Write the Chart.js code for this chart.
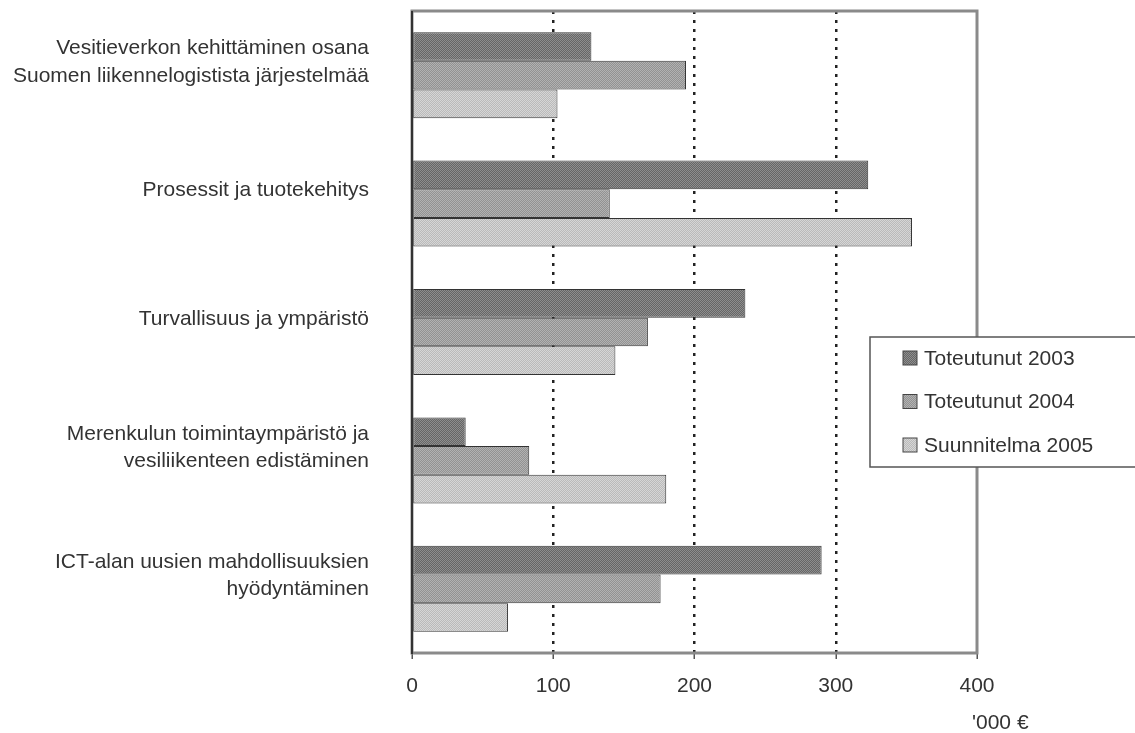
<!DOCTYPE html>
<html>
<head>
<meta charset="utf-8">
<script src="https://cdn.jsdelivr.net/npm/chart.js@4/dist/chart.umd.min.js"></script>
<style>
  html, body { margin: 0; padding: 0; background: #fff; }
  #wrap { width: 1135px; height: 733px; }
</style>
</head>
<body>
<div id="wrap"><canvas id="chart" width="1135" height="733"></canvas></div>
<script>
const categories = [
  ['Vesitieverkon kehittäminen osana', 'Suomen liikennelogistista järjestelmää'],
  'Prosessit ja tuotekehitys',
  'Turvallisuus ja ympäristö',
  ['Merenkulun toimintaympäristö ja', 'vesiliikenteen edistäminen'],
  ['ICT-alan uusien mahdollisuuksien', 'hyödyntäminen']
];
const seriesNames = ['Toteutunut 2003', 'Toteutunut 2004', 'Suunnitelma 2005'];
const toteutunut2003 = [127, 323, 236, 38, 290];
const toteutunut2004 = [194, 140, 167, 83, 176];
const suunnitelma2005 = [103, 354, 144, 180, 68];
const xTicks = [0, 100, 200, 300, 400];
const unitLabel = "'000 €";

const FONT = "'Liberation Sans', Arial, sans-serif";
const TEXT = '#333';

// small checker so the bars get the dithered look of the scan
function makePattern(c1, c2) {
  const p = document.createElement('canvas');
  p.width = 2; p.height = 2;
  const g = p.getContext('2d');
  g.fillStyle = c1; g.fillRect(0, 0, 2, 2);
  g.fillStyle = c2; g.fillRect(0, 0, 1, 1); g.fillRect(1, 1, 1, 1);
  return g.createPattern(p, 'repeat');
}

const ctx = document.getElementById('chart').getContext('2d');
const fills = [
  makePattern('#666666', '#8e8e8e'),
  makePattern('#929292', '#b2b2b2'),
  makePattern('#bababa', '#d6d6d6')
];

const framePlugin = {
  id: 'frame',
  beforeDatasetsDraw(chart) {
    const a = chart.chartArea;
    const c = chart.ctx;
    c.save();
    c.strokeStyle = '#8a8a8a';
    c.lineWidth = 3;
    c.strokeRect(a.left, a.top, a.right - a.left, a.bottom - a.top);
    c.strokeStyle = '#333';
    c.lineWidth = 2;
    c.beginPath();
    c.moveTo(a.left, a.top);
    c.lineTo(a.left, a.bottom + 1);
    c.stroke();
    c.restore();
  },
  afterDraw(chart) {
    const a = chart.chartArea;
    const c = chart.ctx;
    c.save();
    // legend box, sitting over the right edge of the plot
    const bx = a.right - 107, by = a.top + 326;
    c.fillStyle = '#fff';
    c.fillRect(bx, by, 300, 130);
    c.strokeStyle = '#555';
    c.lineWidth = 1.5;
    c.strokeRect(bx, by, 300, 130);
    c.font = '21px ' + FONT;
    c.textBaseline = 'middle';
    chart.data.datasets.forEach((ds, i) => {
      const y = by + 21 + i * 43.5;
      c.fillStyle = ds.backgroundColor;
      c.fillRect(bx + 33, y - 7, 14, 14);
      c.strokeStyle = '#444';
      c.lineWidth = 1;
      c.strokeRect(bx + 33, y - 7, 14, 14);
      c.fillStyle = TEXT;
      c.fillText(ds.label, bx + 54, y + 1);
    });
    // unit under the last tick
    c.textAlign = 'left';
    c.fillText(unitLabel, a.right - 5, a.bottom + 70);
    c.restore();
  }
};

new Chart(ctx, {
  type: 'bar',
  data: {
    labels: categories,
    datasets: [
      { label: seriesNames[0], data: toteutunut2003, backgroundColor: fills[0] },
      { label: seriesNames[1], data: toteutunut2004, backgroundColor: fills[1] },
      { label: seriesNames[2], data: suunnitelma2005, backgroundColor: fills[2] }
    ]
  },
  options: {
    indexAxis: 'y',
    responsive: false,
    animation: false,
    layout: { padding: { top: 11, right: 158, left: 0, bottom: 0 } },
    datasets: {
      bar: {
        borderColor: '#333',
        borderWidth: 1,
        borderSkipped: false,
        categoryPercentage: 0.67,
        barPercentage: 1
      }
    },
    plugins: {
      legend: { display: false },
      tooltip: { enabled: false }
    },
    scales: {
      x: {
        min: 0,
        max: 400,
        afterBuildTicks: (scale) => { scale.ticks = xTicks.map(v => ({ value: v })); },
        afterFit: (scale) => { scale.height = 80; scale.paddingLeft = 0; scale.paddingRight = 0; },
        grid: {
          color: (c) => (c.tick && (c.tick.value === 0 || c.tick.value === 400)) ? 'rgba(0,0,0,0)' : '#222',
          lineWidth: 2.5,
          drawTicks: true,
          tickLength: 6,
          tickColor: '#555',
          tickWidth: 1.5
        },
        border: { display: false, dash: [3, 6] },
        ticks: {
          padding: 15,
          color: TEXT,
          font: { family: FONT, size: 21 }
        }
      },
      y: {
        afterFit: (scale) => { scale.width = 412; scale.paddingTop = 0; scale.paddingBottom = 0; },
        grid: { display: false },
        border: { display: false },
        ticks: {
          padding: 35,
          labelOffset: -13,
          color: TEXT,
          font: { family: FONT, size: 21, lineHeight: 1.3 }
        }
      }
    }
  },
  plugins: [framePlugin]
});
</script>
</body>
</html>
